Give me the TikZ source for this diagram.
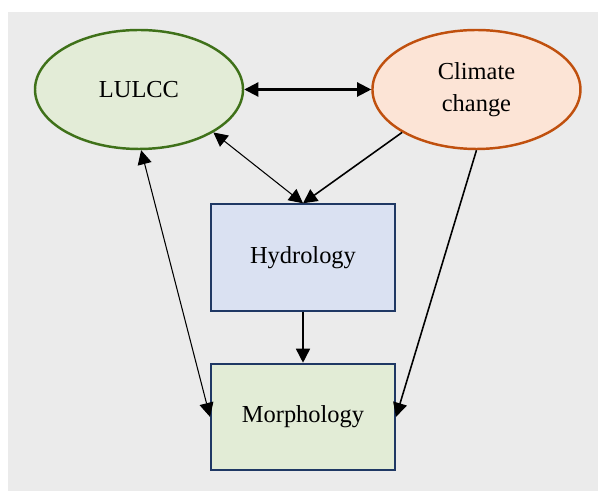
\documentclass[tikz,border=0pt]{standalone}
\usepackage{fontspec}
\setmainfont{Liberation Serif}
\usepackage{xcolor}
\usepackage{tikz}
\usetikzlibrary{positioning}
\usetikzlibrary{shapes.geometric,arrows.meta,positioning}
\definecolor{bggray}{HTML}{EBEBEB}
\definecolor{lulccfill}{HTML}{E3ECD7}
\definecolor{lulccline}{HTML}{3F7119}
\definecolor{climfill}{HTML}{FCE4D6}
\definecolor{climline}{HTML}{C0500E}
\definecolor{hydrofill}{HTML}{DAE1F2}
\definecolor{morphfill}{HTML}{E2ECD6}
\definecolor{boxline}{HTML}{1F3864}
\tikzset
{
  driver/.style  = {ellipse, line width=1.4pt, align=center, inner sep=0pt, minimum width=4.16cm, minimum height=2.38cm, font=\fontsize{13.9}{18.5}\selectfont},
  process/.style = {rectangle, draw=boxline, line width=1.1pt, align=center, minimum width=3.68cm, minimum height=2.13cm, font=\fontsize{13.9}{18.5}\selectfont},
  link/.style    = {{Triangle[length=8pt,width=8pt]}-{Triangle[length=8pt,width=8pt]}, line width=0.6pt},
  flow/.style    = {-{Triangle[length=8pt,width=8pt]}, line width=0.9pt}
}
\begin{document}
\begin{tikzpicture}
            \useasboundingbox (0,0) rectangle (11.96,9.82);
            \fill[bggray] (0.16,0) rectangle (11.96,9.58);
            \node [driver, draw=lulccline, fill=lulccfill] (lulcc) at (2.78,8.03) {LULCC};
            \node [driver, draw=climline, fill=climfill, right=2.54cm of lulcc] (climate) {Climate\\change};
            \node [process, fill=hydrofill] (hydrology) at (6.06,4.67) {Hydrology};
            \node [process, fill=morphfill, below=1.02cm of hydrology] (morphology) {Morphology};
            \draw [link, line width=1.2pt] (lulcc.east) -- (climate.west);
            \draw [link] (lulcc.-30) -- (hydrology.north);
            \draw [link] (lulcc.-88) -- (morphology.west);
            \draw [flow] (climate.210) -- (hydrology.north);
            \draw [flow] (climate.south) -- (morphology.east);
            \draw [flow] (hydrology.south) -- (morphology.north);
\end{tikzpicture}
\end{document}
